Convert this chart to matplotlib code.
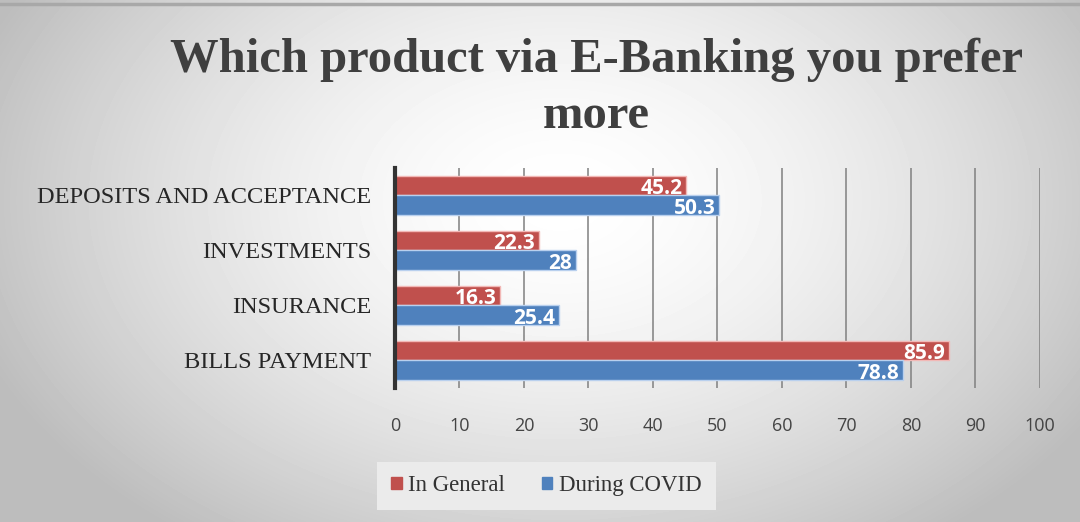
import matplotlib.pyplot as plt
import numpy as np
from matplotlib.patches import Patch

categories = ["BILLS PAYMENT", "INSURANCE", "INVESTMENTS", "DEPOSITS AND ACCEPTANCE"]
in_general = [85.9, 16.3, 22.3, 45.2]
during_covid = [78.8, 25.4, 28, 50.3]
series_names = ["In General", "During COVID"]
x_ticks = list(range(0, 101, 10))
title_lines = ["Which product via E-Banking you prefer", "more"]

RED = "#C0504D"
BLUE = "#4F81BD"
SERIF = "Liberation Serif"

fig = plt.figure(figsize=(10.8, 5.22), dpi=100)

# radial grey-to-white background
bg = fig.add_axes([0, 0, 1, 1], zorder=-10)
yy, xx = np.mgrid[0:522, 0:1080]
r = np.sqrt(((xx - 560) / 620.0) ** 2 + ((yy - 200) / 420.0) ** 2)
shade = np.clip(1.0 - 0.26 * r ** 1.6, 0.74, 1.0)
bg.imshow(shade, cmap="gray", vmin=0, vmax=1, aspect="auto",
          extent=[0, 1, 0, 1], origin="upper")
bg.plot([0, 1], [0.992, 0.992], color="#a8a8a8", lw=2.5)
bg.set_xlim(0, 1)
bg.set_ylim(0, 1)
bg.axis("off")

ax = fig.add_axes([0.3657, 0.2567, 0.5972, 0.4215])
ax.patch.set_alpha(0)

y = np.arange(len(categories))
h = 0.36
bars_red = ax.barh(y + h / 2, in_general, height=h, color=RED,
                   edgecolor="#f2b8b6", linewidth=1, zorder=3, label=series_names[0])
bars_blue = ax.barh(y - h / 2, during_covid, height=h, color=BLUE,
                    edgecolor="#b9d0ee", linewidth=1, zorder=3, label=series_names[1])

for bars, vals in ((bars_red, in_general), (bars_blue, during_covid)):
    for b, v in zip(bars, vals):
        ax.text(v - 0.6, b.get_y() + b.get_height() / 2 - 0.05, f"{v:g}",
                ha="right", va="center", color="white", fontsize=15,
                fontweight="bold", family="Open Sans", zorder=4)

ax.set_xlim(0, 100)
ax.set_ylim(-0.5, len(categories) - 0.5)
ax.set_xticks(x_ticks)
ax.set_yticks(y)
ax.set_yticklabels(categories, family=SERIF, fontsize=17.6, color="#262626")
ax.tick_params(axis="y", length=0, pad=17)
ax.tick_params(axis="x", length=0, pad=21, labelsize=13, labelcolor="#444444")
for lbl in ax.get_xticklabels():
    lbl.set_family("Open Sans")

ax.grid(axis="x", color="#808080", linewidth=1.1, zorder=0)
for s in ("top", "right", "bottom"):
    ax.spines[s].set_visible(False)
ax.spines["left"].set_color("#333333")
ax.spines["left"].set_linewidth(3)
ax.spines["left"].set_zorder(5)

for line, ypos in zip(title_lines, (1 - 60 / 522, 1 - 116 / 522)):
    fig.text(0.552, ypos, line, ha="center", va="center", family=SERIF,
             fontweight="bold", fontsize=35, color="#3f3f3f")

handles = [Patch(color=RED), Patch(color=BLUE)]
leg = fig.legend(handles, series_names, loc="center", bbox_to_anchor=(0.506, 0.069),
                 ncol=2, frameon=True, prop={"family": SERIF, "size": 16.5},
                 handlelength=0.45, handleheight=0.45, handletextpad=0.3,
                 columnspacing=1.6, borderpad=0.6, fancybox=False)
leg.get_frame().set_facecolor("#ebebeb")
leg.get_frame().set_edgecolor("none")
leg.get_frame().set_alpha(1)
for t in leg.get_texts():
    t.set_color("#333333")

fig.savefig("out.png", dpi=100)
